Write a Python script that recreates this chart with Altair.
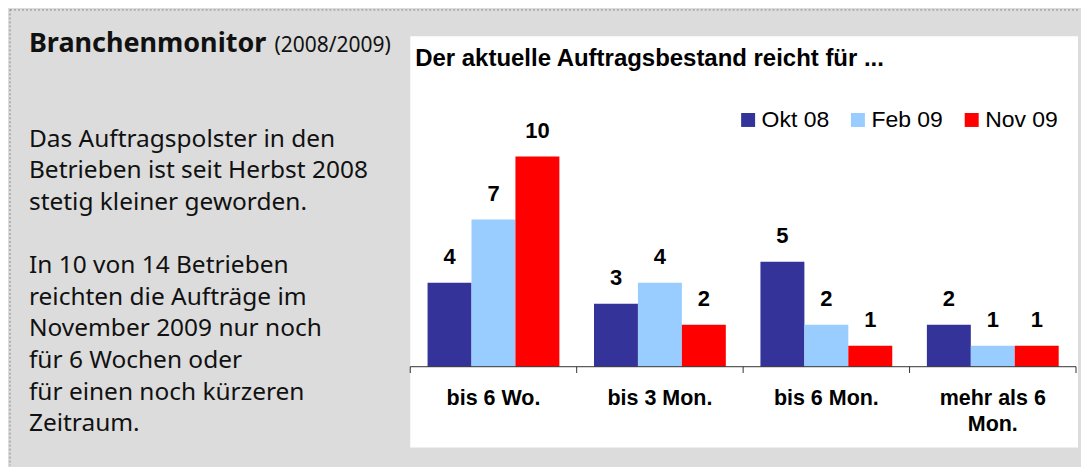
import altair as alt
import pandas as pd

# ---------------- data ----------------
categories = ["bis 6 Wo.", "bis 3 Mon.", "bis 6 Mon.", "mehr als 6 Mon."]
category_labels = ["bis 6 Wo.", "bis 3 Mon.", "bis 6 Mon.", "mehr als 6\nMon."]
series = ["Okt 08", "Feb 09", "Nov 09"]
okt08 = [4, 3, 5, 2]
feb09 = [7, 4, 2, 1]
nov09 = [10, 2, 1, 1]
colors = ["#333399", "#99CCFF", "#FF0000"]

chart_title = "Der aktuelle Auftragsbestand reicht für ..."
panel_title_bold = "Branchenmonitor"
panel_title_normal = "(2008/2009)"
text_lines = [
    "Das Auftragspolster in den",
    "Betrieben ist seit Herbst 2008",
    "stetig kleiner geworden.",
    "In 10 von 14 Betrieben",
    "reichten die Aufträge im",
    "November 2009 nur noch",
    "für 6 Wochen oder",
    "für einen noch kürzeren",
    "Zeitraum.",
]
text_rows = [0, 1, 2, 4, 5, 6, 7, 8, 9]

# ---------------- tables ----------------
rows = []
for s, vals in zip(series, [okt08, feb09, nov09]):
    for c, v in zip(categories, vals):
        rows.append({"cat": c, "series": s, "value": v})
df = pd.DataFrame(rows)
cat_df = pd.DataFrame({"cat": categories, "label": category_labels, "y0": [0] * len(categories)})
bound_df = pd.DataFrame({"b": list(range(len(categories) + 1)), "y0": 0.0, "y1": -0.3})
base_df = pd.DataFrame({"v": [0]})
title_df = pd.DataFrame({"t": [chart_title]})

BAR_FONT = "Liberation Sans"
W, H = 669, 412
AX_W = 667

xscale = alt.Scale(domain=categories, range=[0, AX_W], paddingInner=0.208, paddingOuter=0.104)
yscale = alt.Scale(domain=[-3.85, 15.72], nice=False, zero=False)
X = alt.X("cat:N", scale=xscale, sort=categories, axis=None)
XO = alt.XOffset("series:N", sort=series, scale=alt.Scale(domain=series, paddingInner=0, paddingOuter=0))
Y = alt.Y("value:Q", scale=yscale, axis=None)

bars = alt.Chart(df).mark_bar().encode(
    x=X,
    xOffset=XO,
    y=Y,
    color=alt.Color(
        "series:N",
        sort=series,
        scale=alt.Scale(domain=series, range=colors),
        legend=alt.Legend(
            orient="none", legendX=730, legendY=99, direction="horizontal", columns=3,
            symbolType="square", symbolSize=196, symbolStrokeWidth=0, symbolOpacity=1,
            labelFontSize=23, labelFont=BAR_FONT, labelColor="#000", labelOffset=2,
            columnPadding=17, title=None, padding=0,
        ),
    ),
)

bar_labels = alt.Chart(df).mark_text(
    baseline="alphabetic", dy=-19, font=BAR_FONT, fontSize=22, fontWeight="bold", color="#000"
).encode(x=X, xOffset=XO, y=Y, text=alt.Text("value:Q"))

axis_line = alt.Chart(base_df).mark_rule(color="#333333", strokeWidth=1).encode(
    y=alt.Y("v:Q", scale=yscale, axis=None), x=alt.value(0), x2=alt.value(AX_W)
)

ticks = alt.Chart(bound_df).mark_rule(color="#333333", strokeWidth=1).encode(
    x=alt.X("b:Q", scale=alt.Scale(domain=[0, len(categories)], range=[0, AX_W]), axis=None),
    y=alt.Y("y0:Q", scale=yscale, axis=None),
    y2="y1:Q",
)

x_labels = alt.Chart(cat_df).mark_text(
    baseline="alphabetic", dy=38, lineBreak="\n", lineHeight=26,
    font=BAR_FONT, fontSize=21.5, fontWeight="bold", color="#000"
).encode(x=X, y=alt.Y("y0:Q", scale=yscale, axis=None), text="label:N")

chart_title_mark = alt.Chart(title_df).mark_text(
    align="left", baseline="alphabetic", font=BAR_FONT, fontSize=24, fontWeight="bold", color="#000"
).encode(x=alt.value(5), y=alt.value(30), text="t:N")

main = alt.layer(
    bars, bar_labels, axis_line, ticks, x_labels, chart_title_mark
).resolve_scale(x="independent").properties(
    width=W, height=H, view=alt.ViewBackground(fill="white", stroke=None)
)

spacer = alt.Chart(base_df).mark_rule(opacity=0).encode(
    x=alt.value(0), y=alt.value(0)
).properties(width=W, height=26.5)

right = alt.vconcat(spacer, main, spacing=0, bounds="flush")

# ---------------- left text panel ----------------
LW, LH = 403, 457
left_df = pd.DataFrame({"row": text_rows, "line": text_lines})
ptitle_b = pd.DataFrame({"row": [-3], "t": [panel_title_bold]})
ptitle_n = pd.DataFrame({"row": [-3], "t": [panel_title_normal]})
ly = alt.Y("row:Q", scale=alt.Scale(domain=[-3, 9], range=[42.7, 422.6]), axis=None)
LFONT = "Noto Sans"

body = alt.Chart(left_df).mark_text(
    align="left", baseline="alphabetic", font=LFONT, fontSize=24.5, color="#111111"
).encode(x=alt.value(21), y=ly, text="line:N")

tb = alt.Chart(ptitle_b).mark_text(
    align="left", baseline="alphabetic", font=LFONT, fontSize=27, fontWeight="bold", color="#111111"
).encode(x=alt.value(21), y=ly, text="t:N")

tn = alt.Chart(ptitle_n).mark_text(
    align="left", baseline="alphabetic", font=LFONT, fontSize=21, color="#111111"
).encode(x=alt.value(267), y=ly, text="t:N")

border_left = alt.Chart(base_df).mark_rule(color="#888888", strokeWidth=1, strokeDash=[2, 2]).encode(
    x=alt.value(2), y=alt.value(0), y2=alt.value(LH)
)
border_top = alt.Chart(base_df).mark_rule(color="#888888", strokeWidth=1, strokeDash=[2, 2]).encode(
    x=alt.value(2), x2=alt.value(1073), y=alt.value(0.5)
)

left = alt.layer(border_left, border_top, tb, tn, body).properties(width=LW, height=LH)

chart = alt.hconcat(left, right, spacing=0, bounds="flush").properties(
    padding={"left": 0, "top": 0, "right": 1, "bottom": 0},
    background="#dcdcdc",
).configure_view(stroke=None)

chart.save("out.html", embed_options={"renderer": "svg", "actions": False})
